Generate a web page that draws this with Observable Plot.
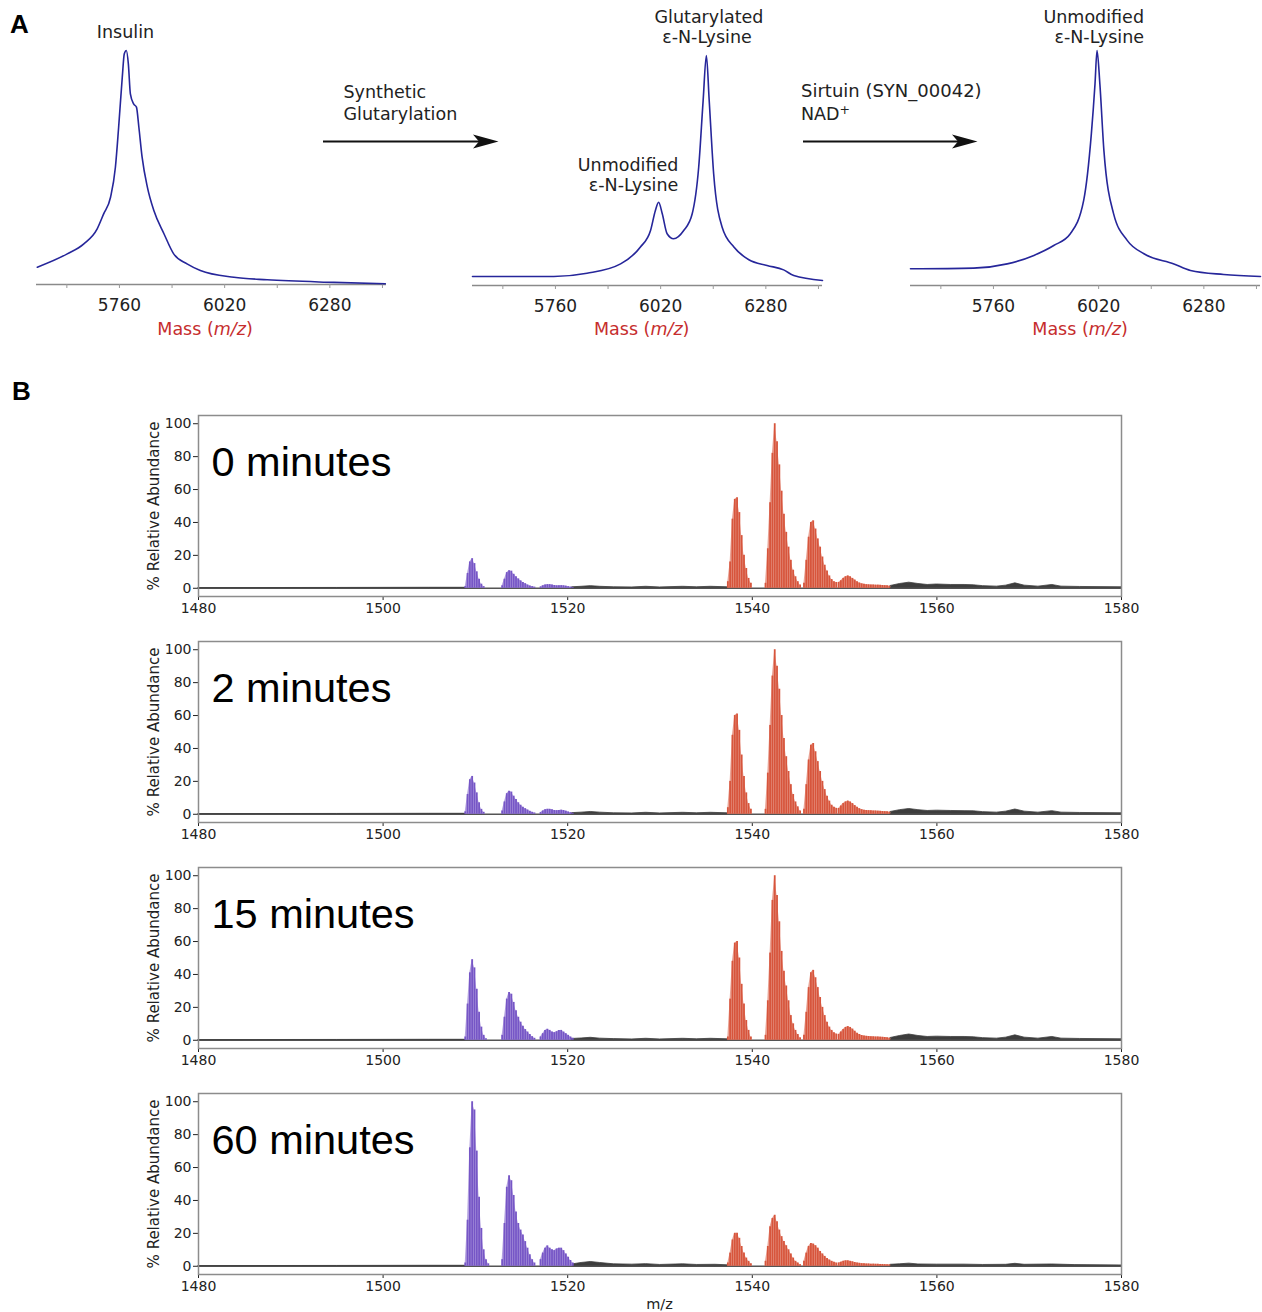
<!DOCTYPE html>
<html>
<head>
<meta charset="utf-8">
<script src="https://cdn.jsdelivr.net/npm/d3@7"></script>
<script src="https://cdn.jsdelivr.net/npm/@observablehq/plot@0.6"></script>
<style>
  html, body { margin: 0; padding: 0; background: #fff; }
  #page { position: relative; width: 1262px; height: 1312px; overflow: hidden; font-family: "DejaVu Sans", sans-serif; }
  .plot { position: absolute; }
  #overlay { position: absolute; left: 0; top: 0; pointer-events: none; }
</style>
</head>
<body>
<div id="page">
  <svg id="overlay" width="1262" height="1312" font-family="DejaVu Sans, sans-serif" fill="#222">
    <text x="10" y="33" font-family="Liberation Sans, Arial, sans-serif" font-weight="bold" font-size="26" fill="#000">A</text>
    <text x="12" y="400" font-family="Liberation Sans, Arial, sans-serif" font-weight="bold" font-size="26" fill="#000">B</text>

    <g font-size="17.5">
      <text x="125.5" y="38" text-anchor="middle">Insulin</text>
      <text x="343.5" y="98">Synthetic</text>
      <text x="343.5" y="120">Glutarylation</text>
      <text x="709" y="23.3" text-anchor="middle">Glutarylated</text>
      <text x="707" y="43.3" text-anchor="middle">ε-N-Lysine</text>
      <text x="678.3" y="170.7" text-anchor="end">Unmodified</text>
      <text x="678.3" y="190.5" text-anchor="end">ε-N-Lysine</text>
      <text x="801" y="97" font-size="18">Sirtuin (SYN_00042)</text>
      <text x="801" y="120">NAD<tspan dy="-6" font-size="12.5">+</tspan></text>
      <text x="1144" y="23.3" text-anchor="end">Unmodified</text>
      <text x="1144" y="43.3" text-anchor="end">ε-N-Lysine</text>
    </g>

    <g fill="#c62d2d" font-size="17.5" text-anchor="middle">
      <text x="205" y="334.5">Mass (<tspan font-style="italic">m/z</tspan>)</text>
      <text x="641.7" y="334.5">Mass (<tspan font-style="italic">m/z</tspan>)</text>
      <text x="1080" y="334.5">Mass (<tspan font-style="italic">m/z</tspan>)</text>
    </g>

    <g stroke="#111" stroke-width="1.8" fill="#111">
      <line x1="323" y1="141.5" x2="484" y2="141.5"/>
      <path d="M498.5,141.5 L473,134.5 L479,141.5 L473,148.5 Z" stroke="none"/>
      <line x1="803" y1="141.5" x2="963" y2="141.5"/>
      <path d="M977.5,141.5 L952,134.5 L958,141.5 L952,148.5 Z" stroke="none"/>
    </g>

    <text x="659.5" y="1309" text-anchor="middle" font-size="14.5">m/z</text>
  </svg>
</div>
<script>
// ---------------- Panel A data (intact-mass spectra) ----------------
const massDomain = [5555, 6420];
const massTicks = [5760, 6020, 6280];
const massMinorTicks = [5630, 5760, 5890, 6020, 6150, 6280, 6410];

// Insulin
const insulinMass = [5557,5631,5672,5705,5721,5738,5750,5758,5767,5772,5777,5782,5787,5795,5802,5808,5816,5829,5845,5870,5894,5927,5960,6043,6125,6290,6417];
const insulinInt  = [7.4,13.1,17.4,23.8,30.2,37.3,50.1,67.2,88.6,98.6,100,94.3,81.5,77.2,75.8,67.2,54.4,41.6,31.6,21.7,13.1,8.8,6,3.1,2,0.9,0.3];

// After synthetic glutarylation
const glutMass = [5555,5756,5838,5921,5970,5995,6007,6015,6024,6036,6052,6077,6098,6114,6125,6133,6140,6151,6172,6201,6238,6283,6324,6349,6420];
const glutInt  = [3.9,3.9,5.3,9.4,16.7,23.9,32.6,36.2,31.2,22.5,20.3,23.9,31.2,51.4,80.4,100,80.4,48.6,25.3,16.7,11.2,8.7,6.8,4.3,2.2];

// After sirtuin + NAD+
const sirtMass = [5555,5711,5794,5860,5909,5950,5983,6002,6011,6016,6023,6033,6057,6091,6132,6206,6247,6329,6420];
const sirtInt  = [7.1,7.4,9.2,12.8,17,22,36.2,64.6,85.8,100,85.8,57.4,30.5,19.1,13.5,9.2,6.4,4.7,3.8];

// ---------------- Panel B data (isotope clusters) ----------------
const spikeStep = 0.25;
const panelLabels = ["0 minutes", "2 minutes", "15 minutes", "60 minutes"];
const yAxisLabel = "% Relative Abundance";
const xTicksB = [1480, 1500, 1520, 1540, 1560, 1580];
const yTicksB = [0, 20, 40, 60, 80, 100];

// [start m/z, spike heights (% relative abundance)]
const purple0 = [
  [1508.9,  [1, 9, 16, 18, 15, 10, 5.5, 2.5, 1]],
  [1512.9,  [1.5, 5.5, 9.5, 10.6, 10.4, 8.5, 7, 5.7, 4.5, 3.5, 2.8, 2, 1.4, 1, 0.7]],
  [1517.05, [0.8, 1.5, 2, 2.2, 2.2, 2, 1.7, 1.5, 1.5, 1.6, 1.5, 1.3, 1, 0.7, 0.5]]
];
const red0 = [
  [1537.35, [4, 16, 42, 54, 55, 46, 32, 20, 12, 6, 3]],
  [1541.43, [3, 24, 52, 82, 100, 89, 75, 59, 45, 34, 25, 17, 11, 7, 4, 2]],
  [1545.6,  [3, 17, 31, 40, 41, 36, 30, 25, 19, 14, 10.5, 7.5, 5.3, 4, 3.5]],
  [1549.35, [3.5, 4.5, 6, 7, 7.5, 7, 6, 5, 4, 3.2, 2.7, 2.4, 2.2, 2.1, 2, 2, 1.9, 1.9, 1.8, 1.7, 1.6, 1.5, 1.3]]
];
const gray0 = [
  [[1480,0.1],[1495,0.2],[1505,0.3],[1508.9,0.3]],
  [[1520.5,0.6],[1521.5,0.9],[1522.5,1.3],[1523.5,0.9],[1525,0.6],[1527,0.5],[1528.5,0.9],[1530,0.5],[1532.5,0.9],[1534,0.6],[1535.5,0.9],[1537.3,0.6]],
  [[1555,1.4],[1556,2.6],[1557,3.4],[1558,2.6],[1559,2],[1560,2.3],[1561.5,2],[1563,2],[1564,1.8],[1565,1.3],[1566.5,1],[1567.5,1.6],[1568.5,3],[1569.5,1.6],[1571,1],[1572.5,2],[1573.5,1],[1575.5,0.8],[1580,0.6]]
];

const purple1 = [
  [1508.9,  [1.5, 12, 21, 23, 19, 13, 7, 3, 1.2]],
  [1512.9,  [2, 7.5, 12.5, 14, 13.5, 11, 9, 7, 5.5, 4.3, 3.4, 2.6, 1.8, 1.2, 0.8]],
  [1517.05, [1, 2, 2.8, 3, 3, 2.7, 2.3, 2.2, 2.3, 2.5, 2.3, 1.9, 1.4, 1, 0.6]]
];
const red1 = [
  [1537.35, [4, 20, 48, 60, 61, 51, 36, 23, 13, 6.5, 3]],
  [1541.43, [3, 25, 54, 84, 100, 90, 76, 60, 46, 35, 26, 18, 12, 7.5, 4.5, 2]],
  [1545.6,  [3, 18, 33, 42, 43, 38, 32, 26, 20, 15, 11, 8, 5.5, 4.2, 3.6]],
  [1549.35, [3.5, 5, 6.5, 7.5, 8, 7.5, 6.5, 5.3, 4.2, 3.4, 2.8, 2.5, 2.3, 2.2, 2.1, 2, 2, 1.9, 1.8, 1.7, 1.6, 1.5, 1.3]]
];
const gray1 = [
  [[1480,0.1],[1495,0.2],[1505,0.3],[1508.9,0.3]],
  [[1520.5,0.7],[1521.5,1],[1522.5,1.4],[1523.5,1],[1525,0.6],[1527,0.5],[1528.5,0.9],[1530,0.5],[1532.5,0.9],[1534,0.6],[1535.5,0.9],[1537.3,0.6]],
  [[1555,1.4],[1556,2.5],[1557,3.2],[1558,2.5],[1559,2],[1560,2.2],[1561.5,2],[1563,1.9],[1564,1.8],[1565,1.3],[1566.5,1],[1567.5,1.6],[1568.5,2.9],[1569.5,1.6],[1571,1],[1572.5,1.9],[1573.5,1],[1575.5,0.8],[1580,0.6]]
];

const purple2 = [
  [1508.9,  [2, 22, 41, 49, 44, 31, 17, 8, 3, 1]],
  [1512.9,  [3, 14, 25, 29, 28, 23, 18, 14, 11, 8.5, 6.5, 5, 3.5, 2.2, 1.2]],
  [1517.05, [2, 4, 6, 6.7, 6, 5, 4.6, 5.2, 6, 6, 5, 4, 3, 2, 1.2]]
];
const red2 = [
  [1537.35, [2, 25, 48, 59, 60, 50, 34, 22, 12, 6, 2]],
  [1541.43, [3, 24, 53, 85, 100, 88, 72, 54, 42, 33, 24, 15, 10, 6, 3.5, 1.5]],
  [1545.6,  [3, 17, 32, 41, 42.5, 38, 32, 26, 20, 15, 11, 8, 6, 4.5, 3.8]],
  [1549.35, [3.5, 5, 6.5, 7.8, 8.3, 7.8, 6.8, 5.5, 4.3, 3.5, 2.9, 2.6, 2.4, 2.3, 2.2, 2.1, 2, 2, 1.9, 1.8, 1.7, 1.5, 1.3]]
];
const gray2 = [
  [[1480,0.1],[1495,0.2],[1505,0.3],[1508.9,0.3]],
  [[1520.5,0.8],[1521.5,1.1],[1522.5,1.5],[1523.5,1],[1525,0.7],[1527,0.5],[1528.5,0.9],[1530,0.5],[1532.5,0.9],[1534,0.6],[1535.5,0.9],[1537.3,0.6]],
  [[1555,1.4],[1556,2.6],[1557,3.5],[1558,2.6],[1559,2],[1560,2.2],[1561.5,2],[1563,2],[1564,1.8],[1565,1.3],[1566.5,1],[1567.5,1.6],[1568.5,3],[1569.5,1.6],[1571,1],[1572.5,2],[1573.5,1],[1575.5,0.8],[1580,0.6]]
];

const purple3 = [
  [1508.9,  [2, 28, 72, 100, 95, 70, 42, 23, 10, 4, 1.5]],
  [1512.9,  [4, 26, 48, 55, 52, 43, 33, 26, 22, 19, 15, 11, 7, 4, 2]],
  [1517.05, [4, 8, 11, 12.4, 11, 10, 9.5, 10.5, 11, 11, 9.5, 7.5, 5.5, 3.5, 2]]
];
const red3 = [
  [1537.35, [2, 8, 16, 20, 20, 17, 12, 8, 5, 3, 1.5]],
  [1541.43, [3, 12, 24, 29, 31, 27, 22, 18, 15, 12.5, 10, 7.5, 5, 3, 2, 1]],
  [1545.6,  [3, 8, 12, 13.8, 13.5, 12.5, 11, 9, 7.5, 6, 4.7, 3.8, 3, 2.5, 2]],
  [1549.35, [2, 2.5, 3, 3.3, 3.3, 3, 2.7, 2.3, 2, 1.8, 1.6, 1.5, 1.4, 1.4, 1.3, 1.3, 1.2, 1.2, 1.1, 1.1, 1, 1, 0.9]]
];
const gray3 = [
  [[1480,0.1],[1495,0.2],[1505,0.3],[1508.9,0.3]],
  [[1520.6,1.2],[1521.5,2],[1522.5,2.6],[1523.5,2],[1525,1.2],[1527,1],[1528.5,1.3],[1530,0.8],[1532.5,1.2],[1534,0.8],[1536,0.9],[1537.3,0.6]],
  [[1555,0.9],[1556,1.2],[1557,1.6],[1558,1.1],[1560,1],[1563,1],[1565,0.8],[1567.5,0.9],[1568.5,1.5],[1569.5,0.9],[1572.5,1.1],[1575,0.7],[1580,0.5]]
];

const purpleSets = [purple0, purple1, purple2, purple3];
const redSets = [red0, red1, red2, red3];
const graySets = [gray0, gray1, gray2, gray3];

// ---------------- helpers ----------------
const purpleColor = "#7656c6";
const redColor = "#d7553c";
const grayColor = "#3d3d3d";
const traceColor = "#26269a";

function flattenClusters(clusters) {
  return clusters.flatMap(([start, hs], c) => hs.map((h, i) => ({mz: start + i * spikeStep, h, c})));
}
function flattenSegments(segs) {
  return segs.flatMap((seg, k) => seg.map(([mz, h]) => ({mz, h, seg: k})));
}

const page = document.getElementById("page");
function place(node, left, top) {
  node.classList.add("plot");
  node.style.left = left + "px";
  node.style.top = top + "px";
  page.insertBefore(node, document.getElementById("overlay"));
}

// ---------------- Panel A ----------------
function massPlot(mz, inten, areaH) {
  const data = mz.map((m, i) => ({m, v: inten[i]}));
  return Plot.plot({
    width: 370, height: 10 + areaH + 40,
    marginLeft: 10, marginRight: 10, marginTop: 10, marginBottom: 40,
    style: {fontFamily: "DejaVu Sans, sans-serif", fontSize: "17px", color: "#222", background: "transparent", overflow: "visible"},
    x: {domain: massDomain, ticks: massTicks, tickFormat: "d", tickSize: 0, tickPadding: 14, label: null},
    y: {domain: [0, 100], axis: null},
    marks: [
      Plot.ruleY([0], {stroke: "#8a8a8a", strokeWidth: 1.6}),
      Plot.ruleX(massMinorTicks, {x: d => d, y1: 0, y2: 0, insetBottom: -4, stroke: "#9a9a9a", strokeWidth: 1}),
      Plot.line(data, {x: "m", y: "v", stroke: traceColor, strokeWidth: 1.6, curve: "monotone-x"})
    ]
  });
}
place(massPlot(insulinMass, insulinInt, 234), 26, 40);
place(massPlot(glutMass, glutInt, 230), 462, 45);
place(massPlot(sirtMass, sirtInt, 235), 900, 40);

// ---------------- Panel B ----------------
function spectrumPlot(k) {
  const purple = flattenClusters(purpleSets[k]);
  const red = flattenClusters(redSets[k]);
  return Plot.plot({
    width: 1262, height: 216,
    marginLeft: 198, marginRight: 141, marginTop: 5, marginBottom: 30,
    style: {fontFamily: "DejaVu Sans, sans-serif", fontSize: "14px", color: "#222", background: "transparent", overflow: "visible"},
    x: {domain: [1480, 1580], ticks: xTicksB, tickFormat: "d", tickSize: 4, tickPadding: 3, label: null},
    y: {domain: [-5, 105], ticks: yTicksB, tickSize: 5, tickPadding: 2, label: null},
    marks: [
      Plot.ruleY([0], {stroke: "#555", strokeWidth: 1.5}),
      Plot.areaY(flattenSegments(graySets[k]), {x: "mz", y: "h", z: "seg", fill: grayColor, stroke: grayColor, strokeWidth: 0.8}),
      Plot.areaY(purple, {x: "mz", y: "h", z: "c", fill: purpleColor, fillOpacity: 0.55}),
      Plot.areaY(red, {x: "mz", y: "h", z: "c", fill: redColor, fillOpacity: 0.55}),
      Plot.ruleX(purple, {x: "mz", y1: 0, y2: "h", stroke: purpleColor, strokeWidth: 1.8}),
      Plot.ruleX(red, {x: "mz", y1: 0, y2: "h", stroke: redColor, strokeWidth: 1.8}),
      Plot.frame({stroke: "#8c8c8c", strokeWidth: 1.5}),
      Plot.text([panelLabels[k]], {text: d => d, frameAnchor: "top-left", dx: 13, dy: 31, lineAnchor: "top", textAnchor: "start",
        fontSize: 41.5, fontFamily: "Liberation Sans, Arial, sans-serif", fill: "#000"}),
      Plot.text([yAxisLabel], {text: d => d, frameAnchor: "left", dx: -44.5, rotate: -90, textAnchor: "middle", lineAnchor: "middle",
        fontSize: 15, fill: "#222"})
    ]
  });
}
[410, 636, 862, 1088].forEach((top, k) => place(spectrumPlot(k), 0, top));
</script>
</body>
</html>
